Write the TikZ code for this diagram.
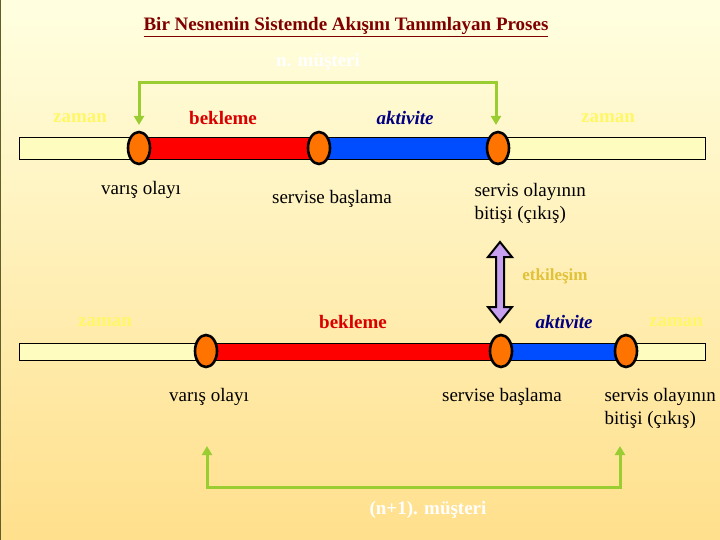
\documentclass[tikz,border=0pt]{standalone}
\usepackage{fontspec}
\setmainfont{Liberation Serif}
\usetikzlibrary{shapes.geometric,arrows.meta}
\definecolor{ygreen}{RGB}{154,205,50}
\definecolor{lav}{RGB}{200,160,240}
\begin{document}
\begin{tikzpicture}[x=1pt,y=-1pt,
 ev/.style={ellipse,draw=black,line width=2.6pt,fill=orange!90!red,minimum width=22pt,minimum height=32pt,inner sep=0pt},
 seg/.style={draw=black,line width=0.8pt},
 lbl/.style={font=\fontsize{19}{23}\selectfont,align=left},
 zm/.style={font=\bfseries\fontsize{19}{22}\selectfont,text=yellow!60!white},
 bek/.style={font=\bfseries\fontsize{19}{22}\selectfont,text=red!85!black},
 akt/.style={font=\bfseries\itshape\fontsize{19}{22}\selectfont,text=blue!50!black},
 grn/.style={draw=ygreen,line width=3pt,-{Triangle[length=9pt,width=10pt]}},
 mus/.style={font=\bfseries\fontsize{19}{22}\selectfont,text=white}]
\useasboundingbox (0,0) rectangle (720,540);
\shade[top color=yellow!12!white,bottom color=yellow!45!orange!45!white] (0,0) rectangle (720,540);
\draw[olive!60!black,line width=1pt] (0,0) rectangle (720,540);
\node[font=\bfseries\fontsize{19}{22}\selectfont,text=red!50!black] (title) at (346,27) {\underline{Bir Nesnenin Sistemde Akışını Tanımlayan Proses}};
% top line
\filldraw[seg,fill=yellow!25!white] (19,137) rectangle (705,159);
\filldraw[seg,fill=red] (139,137) rectangle (319,159);
\filldraw[seg,fill=blue!70!cyan] (319,137) rectangle (498,159);
\node[ev] (a1) at (139,148) {};
\node[ev] (b1) at (319,148) {};
\node[ev] (c1) at (498,148) {};
\node[mus] (m1) at (318,62) {n. müşteri};
\coordinate (t1) at (139,125); \coordinate (t2) at (496,125);
\draw[grn] (t2|-0,83) -- (t1|-0,83) -- (t1);
\draw[grn] (t1|-0,83) -- (t2|-0,83) -- (t2);
\node[zm] (z1) at (80,118) {zaman};
\node[bek] (k1) at (223,118) {bekleme};
\node[akt] (ak1) at (405,118) {aktivite};
\node[zm] (z2) at (608,118) {zaman};
\node[lbl] (v1) at (141,190) {varış olayı};
\node[lbl] (s1) at (332,199) {servise başlama};
\node[lbl,anchor=west] (e1) at (471,203) {servis olayının\\bitişi (çıkış)};
% interaction
\coordinate (p1) at (500,242);
\coordinate (p2) at (500,322);
\filldraw[draw=black,line width=2pt,fill=lav,line join=miter]
  (p1) -- ++(12,15) -- ++(-8,0) -- ++(0,50) -- ++(8,0) -- (p2) -- ++(-12,-15) -- ++(8,0) -- ++(0,-50) -- ++(-8,0) -- cycle;
\node[font=\bfseries\fontsize{17}{20}\selectfont,text=yellow!50!brown] (et) at (555,276) {etkileşim};
% bottom line
\filldraw[seg,fill=yellow!25!white] (19,343) rectangle (705,360);
\filldraw[seg,fill=red] (206,343) rectangle (501,360);
\filldraw[seg,fill=blue!70!cyan] (501,343) rectangle (626,360);
\node[ev] (a2) at (206,351) {};
\node[ev] (b2) at (501,351) {};
\node[ev] (c2) at (626,351) {};
\node[zm] (z3) at (105,322) {zaman};
\node[bek] (k2) at (353,322) {bekleme};
\node[akt] (ak2) at (564,322) {aktivite};
\node[zm] (z4) at (676,322) {zaman};
\node[lbl] (v2) at (209,397) {varış olayı};
\node[lbl] (s2) at (502,397) {servise başlama};
\node[lbl,anchor=west] (e2) at (601,408) {servis olayının\\bitişi (çıkış)};
\coordinate (u1) at (207,446); \coordinate (u2) at (620,446);
\draw[grn] (u2|-0,487) -- (u1|-0,487) -- (u1);
\draw[grn] (u1|-0,487) -- (u2|-0,487) -- (u2);
\node[mus] (m2) at (428,510) {(n+1). müşteri};
\end{tikzpicture}
\end{document}
